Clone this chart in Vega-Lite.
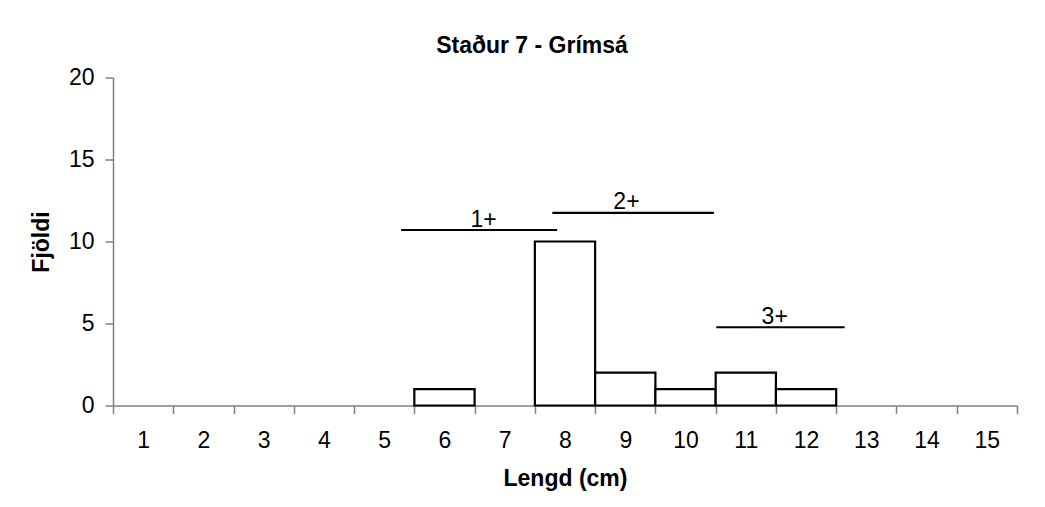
{
  "$schema": "https://vega.github.io/schema/vega-lite/v6.json",
  "width": 904,
  "height": 328,
  "autosize": {"type": "none"},
  "padding": {"left": 113, "top": 77.5, "right": 28, "bottom": 101.5},
  "background": "white",
  "title": {
    "text": "Staður 7 - Grímsá",
    "font": "Liberation Sans",
    "fontSize": 23,
    "fontWeight": "bold",
    "color": "black",
    "anchor": "middle",
    "dx": -33,
    "offset": -9,
    "baseline": "alphabetic"
  },
  "config": {
    "view": {"stroke": null},
    "font": "Liberation Sans"
  },
  "resolve": {"scale": {"x": "independent"}},
  "layer": [
    {
      "data": {
        "values": [
          {"lengd": 6, "fjoldi": 1},
          {"lengd": 8, "fjoldi": 10},
          {"lengd": 9, "fjoldi": 2},
          {"lengd": 10, "fjoldi": 1},
          {"lengd": 11, "fjoldi": 2},
          {"lengd": 12, "fjoldi": 1}
        ]
      },
      "mark": {"type": "bar", "fill": "white", "stroke": "black", "strokeWidth": 2.2},
      "encoding": {
        "x": {
          "field": "lengd",
          "type": "ordinal",
          "scale": {"domain": [1, 2, 3, 4, 5, 6, 7, 8, 9, 10, 11, 12, 13, 14, 15], "paddingInner": 0, "paddingOuter": 0},
          "axis": {
            "title": "Lengd (cm)",
            "labelAngle": 0,
            "tickBand": "extent",
            "domainColor": "#808080",
            "domainWidth": 1.5,
            "tickColor": "#808080",
            "tickWidth": 1.5,
            "tickSize": 8,
            "labelFont": "Liberation Sans",
            "labelFontSize": 23,
            "labelColor": "black",
            "labelPadding": 16,
            "titleFont": "Liberation Sans",
            "titleFontSize": 23,
            "titleFontWeight": "bold",
            "titleColor": "black",
            "titlePadding": 15
          }
        },
        "y": {
          "field": "fjoldi",
          "type": "quantitative",
          "title": "Fjöldi",
          "scale": {"domain": [0, 20], "nice": false},
          "axis": {
            "values": [0, 5, 10, 15, 20],
            "grid": false,
            "domainColor": "#808080",
            "domainWidth": 1.5,
            "tickColor": "#808080",
            "tickWidth": 1.5,
            "tickSize": 8,
            "labelFont": "Liberation Sans",
            "labelFontSize": 23,
            "labelColor": "black",
            "labelPadding": 11,
            "titleFont": "Liberation Sans",
            "titleFontSize": 23,
            "titleFontWeight": "bold",
            "titleColor": "black",
            "titlePadding": 15
          }
        }
      }
    },
    {
      "data": {"values": [
        {"age": "1+", "start": 5.28, "end": 7.87, "y": 10.7, "lx": 6.65},
        {"age": "2+", "start": 7.79, "end": 10.47, "y": 11.75, "lx": 9.02},
        {"age": "3+", "start": 10.51, "end": 12.64, "y": 4.77, "lx": 11.48}
      ]},
      "mark": {"type": "rule", "stroke": "black", "strokeWidth": 2.2},
      "encoding": {
        "x": {"field": "start", "type": "quantitative", "scale": {"domain": [0.5, 15.5], "nice": false, "zero": false}, "axis": null},
        "x2": {"field": "end"},
        "y": {"field": "y", "type": "quantitative", "title": "Fjöldi"}
      }
    },
    {
      "data": {"values": [
        {"age": "1+", "start": 5.28, "end": 7.87, "y": 10.7, "lx": 6.65},
        {"age": "2+", "start": 7.79, "end": 10.47, "y": 11.75, "lx": 9.02},
        {"age": "3+", "start": 10.51, "end": 12.64, "y": 4.77, "lx": 11.48}
      ]},
      "mark": {"type": "text", "font": "Liberation Sans", "fontSize": 23, "baseline": "alphabetic", "align": "center", "dy": -3.5, "color": "black"},
      "encoding": {
        "x": {"field": "lx", "type": "quantitative", "scale": {"domain": [0.5, 15.5], "nice": false, "zero": false}, "axis": null},
        "y": {"field": "y", "type": "quantitative", "title": "Fjöldi"},
        "text": {"field": "age"}
      }
    }
  ]
}
